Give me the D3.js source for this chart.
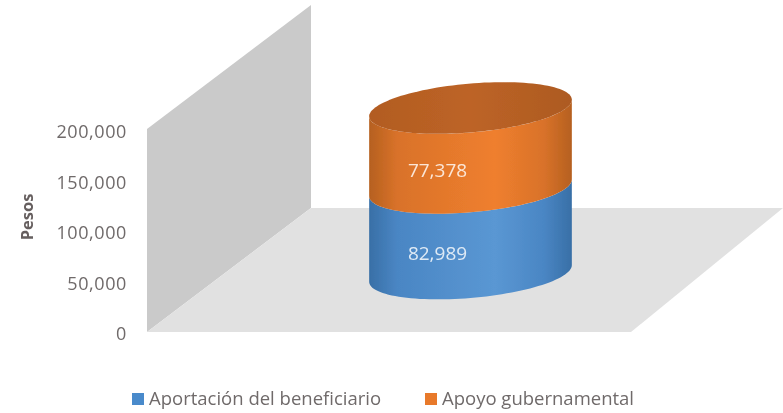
<!DOCTYPE html>
<html><head><meta charset="utf-8">
<script src="https://cdn.jsdelivr.net/npm/d3@7"></script>
<style>html,body{margin:0;padding:0;background:#fff}svg{display:block}text{font-family:"Open Sans",sans-serif}</style>
</head><body><svg id="c" width="783" height="413"></svg>
<script>
const seriesNames = ["Aportación del beneficiario", "Apoyo gubernamental"];
const seriesValues = [82989, 77378];
const tickValues = [0, 50000, 100000, 150000, 200000];
const axisTitle = "Pesos";
const seriesColors = [
  {edge:"#386fa6", mid:"#5a97d3", main:"#4a86c4"},
  {edge:"#b5601f", mid:"#ef7f2e", main:"#d9722a"}
];

const svg = d3.select("#c");
const defs = svg.append("defs");
defs.append("filter").attr("id","soft").append("feGaussianBlur").attr("stdDeviation",0.7);
const root = svg.append("g").attr("filter","url(#soft)");

// 3D frame
const y = d3.scaleLinear().domain([0,200000]).range([332,129]);
const labelY = d3.scaleLinear().domain([0,200000]).range([334,132]);
const depth = {dx:164, dy:-124};
const floorRightFront = 631, floorRightBack = 783;
root.append("polygon").attr("fill","#cacaca")
  .attr("points",[[147,y(0)],[147,y(200000)],[147+depth.dx,y(200000)+depth.dy],[147+depth.dx,y(0)+depth.dy]].join(" "));
root.append("polygon").attr("fill","#e1e1e1")
  .attr("points",[[147,y(0)],[147+depth.dx,y(0)+depth.dy],[floorRightBack,y(0)+depth.dy],[floorRightFront,y(0)]].join(" "));

// Axis labels
const axis = d3.axisLeft(labelY).tickValues(tickValues).tickFormat(d3.format(",")).tickSize(0).tickPadding(0);
const ax = root.append("g").attr("transform","translate(127,0)").call(axis);
ax.select(".domain").remove();
ax.selectAll("text").attr("fill","#6f6a6a").style("font-size","18px").style("letter-spacing","0.6px").style("font-family",'"Open Sans",sans-serif');
root.append("text").attr("transform","translate(33,217) rotate(-90)").attr("text-anchor","middle")
  .attr("fill","#665f5f").style("font-size","16.5px").style("font-weight","700").text(axisTitle);

// Cylinder
const cx = 470.5, baseCy = 273.5, rx = 101.7, ry = 24.4, phi = -5*Math.PI/180;
const h = d3.scaleLinear().domain([0,160367]).range([0,165.5]);
const ex = t => cx + rx*Math.cos(t)*Math.cos(phi) - ry*Math.sin(t)*Math.sin(phi);
const ey = (t,cy) => cy + rx*Math.cos(t)*Math.sin(phi) + ry*Math.sin(t)*Math.cos(phi);
const tR = Math.atan2(-ry*Math.sin(phi), rx*Math.cos(phi));
const front = d3.range(0,61).map(i => tR + Math.PI*i/60);
const line = d3.line();
const stack = d3.cumsum(seriesValues);

seriesColors.forEach((c,i) => {
  const g = defs.append("linearGradient").attr("id","g"+i).attr("gradientUnits","userSpaceOnUse")
    .attr("x1",cx-rx).attr("x2",cx+rx).attr("y1",0).attr("y2",0);
  [[0,c.edge],[0.14,c.main],[0.62,c.mid],[0.86,c.main],[1,c.edge]].forEach(s =>
    g.append("stop").attr("offset",s[0]).attr("stop-color",s[1]));
});
const tg = defs.append("linearGradient").attr("id","top").attr("gradientUnits","userSpaceOnUse")
  .attr("x1",cx-rx).attr("x2",cx+rx).attr("y1",0).attr("y2",0);
[[0,"#b25c22"],[0.5,"#bd6426"],[1,"#ad5a22"]].forEach(s=>tg.append("stop").attr("offset",s[0]).attr("stop-color",s[1]));

seriesValues.forEach((v,i) => {
  const c0 = baseCy - h(stack[i]-v), c1 = baseCy - h(stack[i]);
  const lower = front.map(t => [ex(t),ey(t,c0)]);
  const upper = front.slice().reverse().map(t => [ex(t),ey(t,c1)]);
  root.append("path").attr("d", line(lower.concat(upper))+"Z").attr("fill","url(#g"+i+")");
  root.append("text").attr("x",cx-33).attr("y",(c0+c1)/2+29).attr("text-anchor","middle")
    .attr("fill", i? "#fbe6d6":"#dfeaf5").style("font-size","19px").text(d3.format(",")(v));
});
const topCy = baseCy - h(stack[stack.length-1]);
root.append("path").attr("d", line(d3.range(0,121).map(i=>{const t=i*Math.PI/60;return [ex(t),ey(t,topCy)];}))+"Z").attr("fill","url(#top)");

// Legend
const legendX = [132,425];
seriesNames.forEach((n,i)=>{
  root.append("rect").attr("x",legendX[i]).attr("y",393).attr("width",12).attr("height",12).attr("fill",i?"#e8792b":"#4a8acb");
  root.append("text").attr("x",legendX[i]+17).attr("y",405).attr("fill","#6f6a6a").style("font-size","18.5px").text(n);
});
</script></body></html>
